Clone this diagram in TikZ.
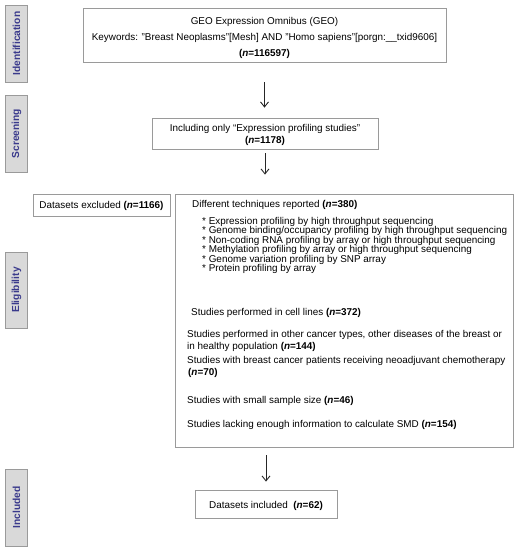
\documentclass[tikz,border=0pt]{standalone}
\usepackage{fontspec}
\setmainfont{Liberation Sans}
\usetikzlibrary{arrows.meta}
\definecolor{tabfill}{HTML}{D9D9D9}
\definecolor{tabtext}{HTML}{3A3A8C}
\definecolor{boxline}{HTML}{9A9A9A}
\newcommand{\nn}[1]{\textbf{(\textit{n}=#1)}}
\begin{document}
\begin{tikzpicture}[x=1pt,y=-1pt,
  tabbox/.style={draw=boxline,fill=tabfill,line width=0.8pt,rotate=90,minimum height=22pt,inner sep=0pt,text=tabtext,font=\fontsize{10.2}{12}\selectfont\bfseries},
  flowbox/.style={draw=boxline,line width=0.8pt,inner sep=0pt},
  txt/.style={inner sep=0pt,anchor=west,yshift=-2pt,font=\fontsize{9.9}{11}\selectfont},
  ctxt/.style={inner sep=0pt,yshift=-2pt,align=center,font=\fontsize{9.9}{11}\selectfont},
  arr/.style={-{Straight Barb[length=5pt,width=8pt,line width=0.9pt]},line width=0.8pt,black!85}]
\useasboundingbox (0,0) rectangle (519,550);
% side tabs
\node[tabbox,minimum width=77pt] (tid) at (16.5,43.5) {Identification};
\node[tabbox,minimum width=77pt] (tsc) at (16.5,133.5) {Screening};
\node[tabbox,minimum width=76pt] (tel) at (16.5,290) {Eligibility};
\node[tabbox,minimum width=77pt] (tin) at (16.5,507.5) {Included};
% boxes
\node[flowbox,minimum width=363pt,minimum height=54pt] (geo) at (264.5,35) {};
\node[ctxt,font=\fontsize{9.9}{16}\selectfont,yshift=-1pt] (geot) at (geo.center)
  {GEO Expression Omnibus (GEO)\\Keywords: "Breast Neoplasms"[Mesh] AND "Homo sapiens"[porgn:\_\_txid9606]\\\nn{116597}};
\node[flowbox,minimum width=226pt,minimum height=31pt] (scr) at (265,133.5) {};
\node[ctxt,font=\fontsize{9.9}{12}\selectfont,yshift=1pt] (scrt) at (scr.center)
  {Including only “Expression profiling studies”\\\nn{1178}};
\node[flowbox,minimum width=137pt,minimum height=22pt] (exc) at (101.5,205) {};
\node[ctxt,yshift=1pt] (exct) at (exc.center) {Datasets excluded \nn{1166}};
\node[flowbox,minimum width=338pt,minimum height=253pt] (big) at (344,320.5) {};
\node[flowbox,minimum width=142pt,minimum height=28pt] (inc) at (266,504) {};
\node[ctxt] (inct) at (inc.center) {Datasets included~~\nn{62}};
% big box content
\node[txt] (t1) at (192,203) {Different techniques reported \nn{380}};
\node[txt,anchor=north west,align=left,font=\fontsize{9.9}{9.5}\selectfont] (t2) at (202,215)
  {* Expression profiling by high throughput sequencing\\
   * Genome binding/occupancy profiling by high throughput sequencing\\
   * Non-coding RNA profiling by array or high throughput sequencing\\
   * Methylation profiling by array or high throughput sequencing\\
   * Genome variation profiling by SNP array\\
   * Protein profiling by array};
\node[txt] (t3) at (191,311) {Studies performed in cell lines \nn{372}};
\node[txt] (t4a) at (187,333) {Studies performed in other cancer types, other diseases of the breast or};
\node[txt] (t4b) at (187,345) {in healthy population \nn{144}};
\node[txt] (t5a) at (187,359) {Studies with breast cancer patients receiving neoadjuvant chemotherapy};
\node[txt] (t5b) at (188,371) {\nn{70}};
\node[txt] (t6) at (187,399) {Studies with small sample size \nn{46}};
\node[txt] (t7) at (187,423) {Studies lacking enough information to calculate SMD \nn{154}};
% arrows
\draw[arr,shorten <=20pt,shorten >=10pt] (geo.south) -- (geo.south |- scr.north);
\draw[arr,shorten <=4pt,shorten >=19pt] (scr.south) -- (scr.south |- big.north);
\draw[arr,shorten <=8pt,shorten >=8pt] (inc.north |- big.south) -- (inc.north);
\end{tikzpicture}
\end{document}
